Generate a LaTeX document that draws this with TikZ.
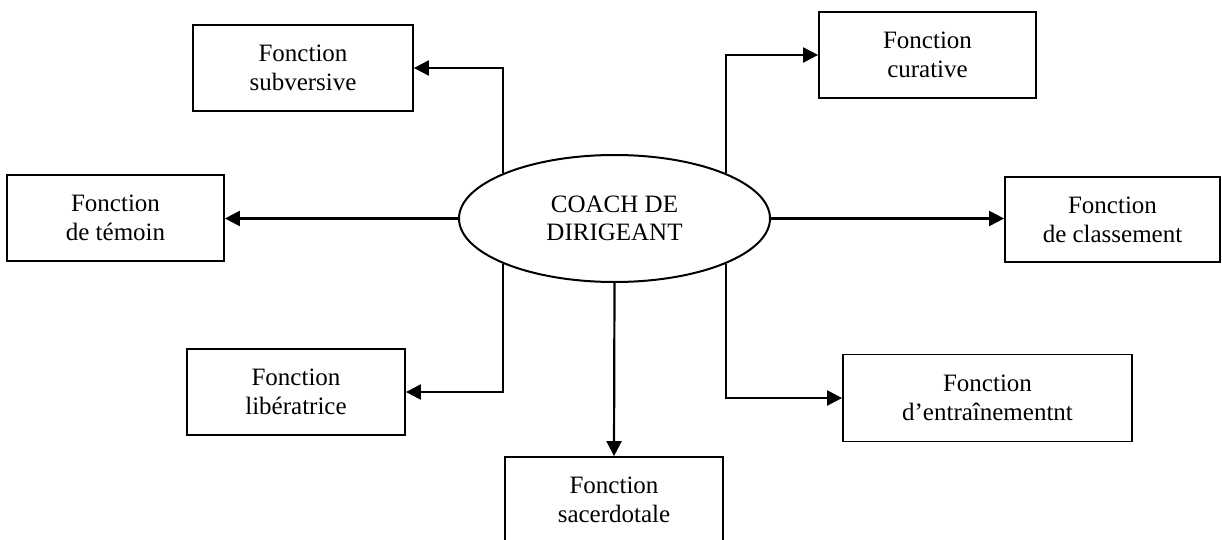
\documentclass[tikz,border=0pt]{standalone}
\usepackage{fontspec}
\setmainfont{Liberation Serif}
\usepackage{tikz}
\usetikzlibrary{arrows.meta,shapes.geometric}
\tikzset{
	fonction/.style={draw, line width=1.8pt, rectangle, align=center, inner sep=0pt, minimum height=86pt, font=\fontsize{25}{29}\selectfont},
	fleche/.style={line width=2.2pt, -{Triangle[length=15pt,width=15pt]}},
	coach/.style={draw, line width=2pt, ellipse, fill=white, align=center, inner sep=0pt, minimum width=311pt, minimum height=127pt, font=\fontsize{25}{28}\selectfont}
}

\begin{document}
\begin{tikzpicture}[x=1pt, y=-1pt]
			%%%%% START %%%%%
			\useasboundingbox (0, 0) rectangle (1222, 540);
			
			\node[coach] (coach) at (614.5, 218.5) {COACH DE\\DIRIGEANT};
			
			\node[fonction, minimum width=220pt] (subv) at (303, 68) {Fonction\\subversive};
			\node[fonction, minimum width=217pt] (temoin) at (115.5, 218) {Fonction\\de témoin};
			\node[fonction, minimum width=218pt] (liber) at (296, 392) {Fonction\\libératrice};
			\node[fonction, minimum width=218pt] (sacer) at (614, 500) {Fonction\\sacerdotale};
			\node[fonction, minimum width=217pt] (curat) at (927.5, 55) {Fonction\\curative};
			\node[fonction, minimum width=215pt, minimum height=85pt] (classe) at (1112.5, 219.5) {Fonction\\de classement};
			\node[fonction, minimum width=289pt, minimum height=87pt] (entrai) at (987.5, 398) {Fonction\\d’entraînementnt};
			
			\draw[fleche] (coach.158) |- (subv.east);
			\draw[fleche] (coach.202) |- (liber.east);
			\draw[fleche] (coach.west) -- (temoin.east |- coach.west);
			\draw[fleche] (coach.south) -- (sacer.north);
			\draw[fleche] (coach.22) |- (curat.west);
			\draw[fleche] (coach.east) -- (classe.west |- coach.east);
			\draw[fleche] (coach.338) |- (entrai.west);
			%%%%% END %%%%%
\end{tikzpicture}
\end{document}
